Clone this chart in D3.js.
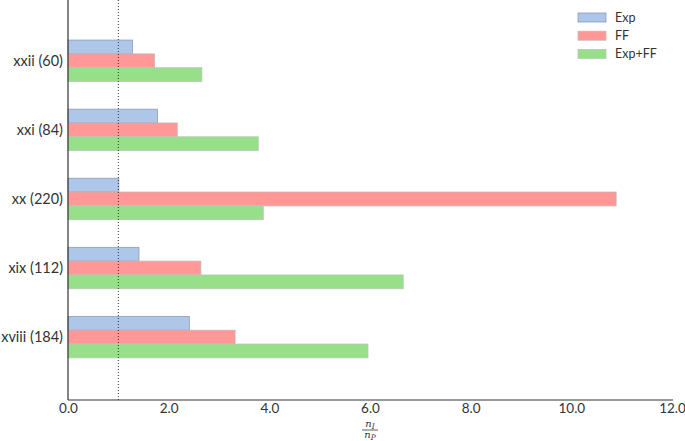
<!DOCTYPE html>
<html>
<head>
<meta charset="utf-8">
<script src="https://cdn.jsdelivr.net/npm/d3@7"></script>
<style>
body { margin: 0; background: #fff; }
text { font-family: "Lato", "DejaVu Sans", sans-serif; fill: #333; }
</style>
</head>
<body>
<div id="chart"></div>
<script>
var categories = ['xviii (184)', 'xix (112)', 'xx (220)', 'xxi (84)', 'xxii (60)'];
var seriesNames = ['Exp', 'FF', 'Exp+FF'];
var expValues = [2.41, 1.41, 1.01, 1.78, 1.28];
var ffValues = [3.32, 2.64, 10.89, 2.17, 1.72];
var expFfValues = [5.96, 6.66, 3.88, 3.78, 2.66];
var xTicks = [0, 2, 4, 6, 8, 10, 12];
var colors = ['#aec7e8', '#ff9896', '#98df8a'];
var edges = ['#8b9cb8', '#c9b3b3', '#b9c9b6'];

var series = [expValues, ffValues, expFfValues];

var margin = {top: 0, right: 13, bottom: 41, left: 68},
	width = 685 - margin.left - margin.right,
	height = 441 - margin.top - margin.bottom;

var svg = d3.select('#chart')
	.append('svg')
	.attr('width', 685)
	.attr('height', 441);

var g = svg.append('g')
	.attr('transform', 'translate(' + margin.left + ',' + margin.top + ')');

var x = d3.scaleLinear()
	.domain([0, 12])
	.range([0, 604]);

var y = d3.scaleLinear()
	.domain([-0.91, 4.88])
	.range([height, 0]);

var barH = y(0) - y(0.2);

// bars: blue on top, red in the middle, green below
series.forEach(function(vals, s) {
	g.selectAll('.bar' + s)
		.data(vals)
		.enter()
		.append('rect')
		.attr('class', 'bar' + s)
		.attr('x', x(0))
		.attr('y', function(d, i) {return y(i + 0.3 - 0.2 * s)})
		.attr('width', function(d) {return x(d) - x(0)})
		.attr('height', barH)
		.attr('fill', colors[s])
		.attr('stroke', edges[s])
		.attr('stroke-width', 0.8);
});

// reference line at 1.0
g.append('line')
	.attr('x1', x(1)).attr('x2', x(1))
	.attr('y1', 0).attr('y2', height)
	.attr('stroke', '#222')
	.attr('stroke-width', 0.9)
	.attr('stroke-dasharray', '1,2');

var xAxis = d3.axisBottom(x)
	.tickValues(xTicks)
	.tickSize(0)
	.tickPadding(3)
	.tickFormat(d3.format('.1f'));

var gx = g.append('g')
	.attr('transform', 'translate(0,' + height + ')')
	.call(xAxis);
gx.select('.domain').attr('stroke', '#333').attr('stroke-width', 1.2).attr('d', 'M0,0H' + (x(12) + 1));
gx.selectAll('text').style('font-size', '13.5px').style('fill', '#333');

var yAxis = d3.axisLeft(y)
	.tickValues(d3.range(categories.length))
	.tickSize(0)
	.tickPadding(5)
	.tickFormat(function(d) {return categories[d]});

var gy = g.append('g').call(yAxis);
gy.select('.domain').attr('stroke', '#333').attr('stroke-width', 1.2).attr('d', 'M0,0V' + height);
gy.selectAll('text').style('font-size', '14.5px').style('fill', '#333');

// x label: n_I / n_P
var lab = g.append('g').attr('transform', 'translate(' + x(6) + ',0)');
var num = lab.append('text').attr('x', 0).attr('y', 427).attr('text-anchor', 'middle')
	.style('font-family', 'DejaVu Serif').style('font-size', '10px').style('font-style', 'italic');
num.append('tspan').text('n');
num.append('tspan').attr('dy', 2).style('font-size', '7.5px').text('I');
lab.append('line').attr('x1', -8).attr('x2', 8).attr('y1', 430).attr('y2', 430)
	.attr('stroke', '#333').attr('stroke-width', 0.8);
var den = lab.append('text').attr('x', 0).attr('y', 438).attr('text-anchor', 'middle')
	.style('font-family', 'DejaVu Serif').style('font-size', '10px').style('font-style', 'italic');
den.append('tspan').text('n');
den.append('tspan').attr('dy', 1.5).style('font-size', '7.5px').text('P');

// legend
var legend = svg.append('g').attr('transform', 'translate(578,13)');
seriesNames.forEach(function(name, i) {
	var row = legend.append('g').attr('transform', 'translate(0,' + (i * 18.2) + ')');
	row.append('rect')
		.attr('width', 28).attr('height', 9)
		.attr('fill', colors[i])
		.attr('stroke', edges[i]).attr('stroke-width', 0.8);
	row.append('text')
		.attr('x', 37).attr('y', 9)
		.style('font-size', '12.5px')
		.text(name);
});
</script>
</body>
</html>
